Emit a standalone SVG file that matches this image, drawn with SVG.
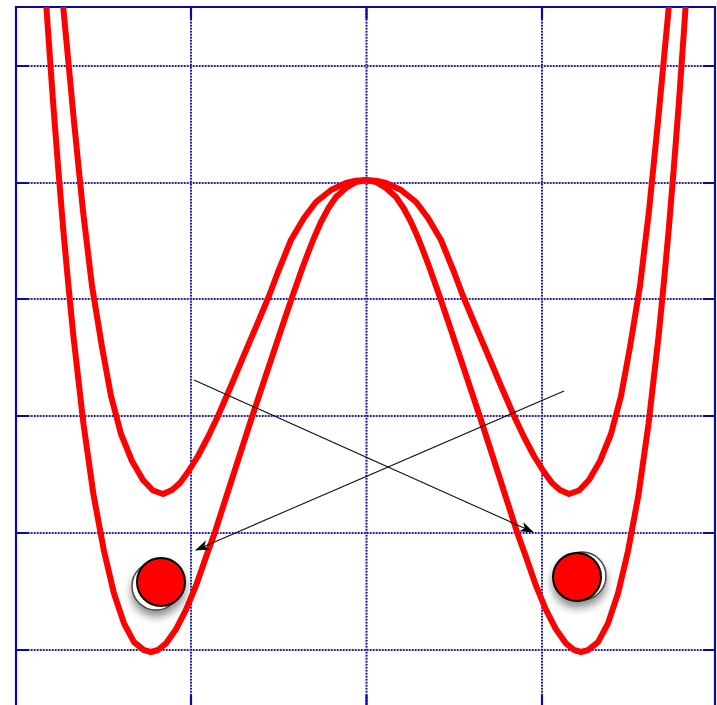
<svg xmlns="http://www.w3.org/2000/svg" width="717" height="705" viewBox="0 0 717 705">
<defs>
<style>
.gridbg{stroke:#c4c4e0;stroke-width:2;fill:none}
.grid{stroke:#1c1ca0;stroke-width:2;stroke-dasharray:1.5 1.5;fill:none}
.frame{stroke:#0a0aa0;stroke-width:2.2;fill:none}
.tick{stroke:#0a0aa0;stroke-width:2.2;fill:none}
.curve{stroke:#ff0000;stroke-width:6;fill:none;stroke-linejoin:round;stroke-linecap:butt}
.arrow{stroke:#111;stroke-width:1.1;fill:none;marker-end:url(#ah)}
.ball{fill:#ff0000;stroke:#000;stroke-width:2}
.ghost{fill:#fff;stroke:#444;stroke-width:1.5}
</style>
<marker id="ah" viewBox="0 0 14 10" refX="13" refY="5" markerWidth="14" markerHeight="10" markerUnits="userSpaceOnUse" orient="auto">
<path d="M0,0 L14,5 L0,10 L4,5 Z" fill="#000"/>
</marker>
<clipPath id="frameclip"><rect x="0" y="7" width="717" height="698"/></clipPath>
<filter id="shadow" x="-50%" y="-50%" width="200%" height="200%">
<feDropShadow dx="0" dy="6" stdDeviation="4" flood-color="#000" flood-opacity="0.45"/>
</filter>
</defs>
<g id="grid">
<line class="gridbg" x1="16" y1="66" x2="715" y2="66"/>
<line class="gridbg" x1="16" y1="183" x2="715" y2="183"/>
<line class="gridbg" x1="16" y1="299" x2="715" y2="299"/>
<line class="gridbg" x1="16" y1="416" x2="715" y2="416"/>
<line class="gridbg" x1="16" y1="533" x2="715" y2="533"/>
<line class="gridbg" x1="16" y1="650" x2="715" y2="650"/>
<line class="gridbg" x1="191" y1="7" x2="191" y2="705"/>
<line class="gridbg" x1="366.5" y1="7" x2="366.5" y2="705"/>
<line class="gridbg" x1="542" y1="7" x2="542" y2="705"/>
<line class="grid" x1="16" y1="66" x2="715" y2="66"/>
<line class="grid" x1="16" y1="183" x2="715" y2="183"/>
<line class="grid" x1="16" y1="299" x2="715" y2="299"/>
<line class="grid" x1="16" y1="416" x2="715" y2="416"/>
<line class="grid" x1="16" y1="533" x2="715" y2="533"/>
<line class="grid" x1="16" y1="650" x2="715" y2="650"/>
<line class="grid" x1="191" y1="7" x2="191" y2="705"/>
<line class="grid" x1="366.5" y1="7" x2="366.5" y2="705"/>
<line class="grid" x1="542" y1="7" x2="542" y2="705"/>
</g>
<g id="frame">
<polyline class="frame" points="16,705 16,7 715,7 715,705"/>
<path class="tick" d="M16,66H28M16,183H28M16,299H28M16,416H28M16,533H28M16,650H28M703,66H715M703,183H715M703,299H715M703,416H715M703,533H715M703,650H715M191,7V19M366.5,7V19M542,7V19M191,695V705M366.5,695V705M542,695V705"/>
</g>
<g id="curves" clip-path="url(#frameclip)">
<polyline id="deep" class="curve" points="45,-13.7 48.1,31.6 53.1,102.5 58.2,168.1 63.2,228.8 68.3,284.3 73.3,335.2 83.4,423.4 93.5,494.8 104,551.1 114,593.5 124,623.4 134,642.2 144,650.2 151,652 158,650 166,643.4 176,629.3 186,609.8 196,585.7 206,557 215,532 223,507 232,479 242,448 252,417 262,387 272,357 282,327 292.5,296 302,269 308,253 313.5,239 321,222 328.5,208 336,197 346,188 356,182 366,180 376,182 386,188 396,197 403.5,208 411,222 418.5,239 424,253 430,269 439.5,296 450,327 460,357 470,387 480,417 490,448 500,479 509,507 517,532 526,557 536,585.7 546,609.8 556,629.3 566,643.4 574,650 581,652 588,650.2 598,642.2 608,623.4 618,593.5 628,551.1 638.5,494.8 648.6,423.4 658.7,335.2 663.7,284.3 668.8,228.8 673.8,168.1 678.9,102.5 683.9,31.6 687,-13.7"/>
<polyline id="shallow" class="curve" points="58,-56 64,15.5 74,121.5 83,211 92,286 102,347 111,396 121,434 132,461 143,480 153,490.5 163,494 172,490 180,483 188,472 198,456 208,437 218,416 231,386 244,355 256,327 269,296 278,272 291,240 304,218 316,202 331,190 346,183 356,180.7 366,180 376,180.7 386,183 401,190 416,202 428,218 441,240 454,272 463,296 476,327 488,355 501,386 514,416 524,437 534,456 544,472 552,483 560,490 569,494 579,490.5 589,480 600,461 611,434 621,396 630,347 640,286 649,211 658,121.5 668,15.5 674,-56"/>
</g>
<g id="connectors">
<line class="arrow" x1="194" y1="380" x2="533" y2="532"/>
<line class="arrow" x1="564" y1="391" x2="196" y2="550"/>
</g>
<g id="ball-left" filter="url(#shadow)">
<circle class="ghost" cx="156" cy="586" r="24"/>
<circle class="ball" cx="161" cy="582" r="24"/>
</g>
<g id="ball-right" filter="url(#shadow)">
<circle class="ghost" cx="582" cy="576" r="24"/>
<circle class="ball" cx="577" cy="577" r="24"/>
</g>
</svg>
